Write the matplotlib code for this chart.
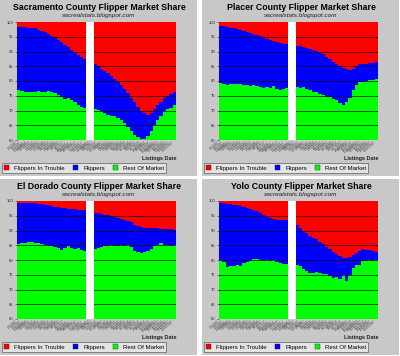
import matplotlib
matplotlib.use("Agg")
import matplotlib.pyplot as plt
from matplotlib.patches import Rectangle, Patch
import numpy as np
import pandas as pd

plt.rcParams['font.family'] = ['Liberation Sans', 'DejaVu Sans']

counties = ["Sacramento", "Placer", "El Dorado", "Yolo"]

# weekly listing dates (tick labels)
dates = pd.date_range("2007-01-01", periods=48, freq="W-MON")
date_labels = [f"{d.month}/{d.day}/{d.year}" for d in dates]

nan = np.nan

# top edge of the "Flippers" band (rest of market + flippers), percent
sac_top = [98.3, 98.2, 98.2, 98.1, 98.0, 97.8, 97.4, 97.0, 96.5, 96.0, 95.4, 94.8,
           94.0, 93.2, 92.3, 91.4, 90.5, 89.6, 88.8, 88.0, 87.4, nan, nan,
           85.8, 85.0, 84.2, 83.4, 82.6, 81.7, 80.8, 79.7, 78.5, 77.2, 75.8, 74.3,
           72.8, 71.3, 70.0, 69.0, 68.6, 69.3, 70.5, 71.8, 73.0, 74.2, 75.0, 75.6, 76.3]
sac_rest = [76.8, 76.6, 76.4, 76.3, 76.4, 76.3, 76.5, 76.4, 76.3, 76.5, 76.4, 76.0,
            75.4, 74.6, 74.0, 74.3, 73.5, 72.8, 72.0, 71.3, 71.0, nan, nan,
            70.4, 70.2, 69.8, 69.2, 68.6, 68.3, 68.0, 67.4, 66.8, 65.8, 64.5, 63.0,
            61.8, 61.0, 60.5, 60.3, 61.2, 63.0, 65.0, 66.8, 68.3, 69.8, 70.5, 71.0, 71.8]

pla_top = [98.7, 98.6, 98.4, 98.1, 97.8, 97.5, 97.2, 96.9, 96.6, 96.3, 96.0, 95.6,
           95.2, 94.8, 94.4, 94.0, 93.6, 93.3, 93.0, 92.7, 92.4, nan, nan,
           92.0, 91.8, 91.5, 91.2, 90.9, 90.6, 90.2, 89.6, 89.0, 88.3, 87.5, 86.6,
           85.8, 85.0, 84.4, 84.0, 83.8, 84.2, 85.0, 85.6, 85.8, 85.9, 86.1, 86.2, 86.4]
pla_rest = [79.4, 79.0, 78.8, 78.9, 79.0, 79.1, 78.9, 78.7, 78.5, 78.3, 78.5, 78.2,
            77.9, 77.5, 78.0, 77.6, 78.2, 77.3, 76.8, 77.2, 77.6, nan, nan,
            77.8, 77.6, 77.9, 77.4, 77.0, 76.4, 76.2, 75.6, 75.2, 74.7, 74.5, 74.0,
            73.6, 72.6, 72.0, 72.8, 74.3, 76.8, 78.8, 79.5, 79.8, 80.0, 80.2, 80.3, 80.8]

eld_top = [99.2, 99.3, 99.3, 99.4, 99.3, 99.3, 99.1, 99.0, 98.8, 98.5, 98.3, 98.1,
           97.8, 97.6, 97.5, 97.4, 97.3, 97.2, 97.0, 97.1, 96.9, nan, nan,
           96.0, 95.8, 95.6, 95.4, 95.1, 94.9, 94.6, 94.3, 94.0, 93.6, 93.2, 92.8,
           92.0, 91.5, 91.1, 90.9, 90.8, 90.9, 90.7, 90.8, 90.6, 90.4, 90.5, 90.4, 90.3]
eld_rest = [85.5, 85.6, 85.7, 86.0, 86.1, 85.8, 85.6, 85.5, 85.2, 84.9, 84.8, 84.5,
            84.2, 83.3, 84.2, 84.9, 84.0, 83.6, 83.9, 83.4, 83.2, nan, nan,
            83.7, 83.9, 84.5, 84.8, 84.9, 85.1, 84.6, 84.9, 85.0, 84.9, 85.0, 84.4,
            83.2, 82.6, 82.4, 82.7, 83.2, 83.8, 84.6, 85.2, 85.8, 85.0, 85.2, 84.9, 85.0]

yol_top = [99.3, 99.2, 99.0, 98.9, 98.8, 98.6, 98.2, 97.9, 97.6, 97.3, 97.0, 96.6,
           96.0, 95.2, 94.6, 94.1, 93.9, 93.7, 93.6, 93.5, 93.4, nan, nan,
           91.8, 91.0, 90.0, 89.0, 88.2, 87.6, 87.0, 86.2, 85.3, 84.5, 83.6, 82.8,
           82.0, 81.2, 80.8, 80.6, 80.9, 81.8, 82.4, 83.2, 83.6, 83.4, 83.5, 83.2, 82.7]
yol_rest = [80.0, 79.2, 77.6, 77.8, 78.0, 78.4, 78.0, 78.9, 79.4, 79.8, 80.2, 80.4,
            80.0, 79.8, 80.1, 79.6, 79.9, 79.2, 79.0, 78.6, 78.5, nan, nan,
            78.3, 77.8, 77.0, 76.3, 75.7, 75.5, 75.8, 75.6, 75.4, 75.2, 74.6, 74.0,
            74.2, 73.5, 74.8, 72.8, 75.0, 77.4, 78.2, 78.3, 79.5, 79.8, 80.0, 79.7, 80.0]

tops = [sac_top, pla_top, eld_top, yol_top]
rests = [sac_rest, pla_rest, eld_rest, yol_rest]

W, H = 400, 356
fig = plt.figure(figsize=(W / 100, H / 100), dpi=100)
fig.patch.set_facecolor("white")


def box(x, y, w, h):
    return [x / W, 1 - (y + h) / H, w / W, h / H]


offsets = [(0, 0), (202, 0), (0, 179), (202, 179)]
RED, BLUE, GREEN = "#ff0000", "#0000ff", "#00ff00"

for i, name in enumerate(counties):
    ox, oy = offsets[i]
    fig.patches.append(Rectangle((ox / W, 1 - (oy + 176) / H), 197 / W, 176 / H,
                                 transform=fig.transFigure, facecolor="#c8c8c8",
                                 edgecolor="none", zorder=-5))

    top = np.array(tops[i])
    rest = np.array(rests[i])
    x = np.arange(len(top))

    ax = fig.add_axes(box(ox + 17, oy + 22, 159, 118))
    ax.set_zorder(2)
    ax.set_facecolor("white")
    for bottom, height, col in [(0, rest, GREEN), (rest, top - rest, BLUE),
                                (top, 100 - top, RED)]:
        ax.bar(x, height, bottom=bottom, width=1.0, color=col, linewidth=0,
               antialiased=False, zorder=1)
    for yy in range(65, 100, 5):
        ax.axhline(yy, color="#101010", linewidth=0.5, zorder=2)
    for gx in x[np.isnan(top)]:
        ax.axvspan(gx - 0.7, gx + 0.7, color="white", linewidth=0, zorder=3)

    ax.set_xlim(-0.5, len(top) - 0.5)
    ax.set_ylim(60, 100)
    ax.set_yticks(range(60, 101, 5))
    ax.tick_params(axis="y", labelsize=3, length=1.5, width=0.4, pad=1, colors="#202020")
    ax.set_xticks(x)
    ax.set_xticklabels(date_labels, rotation=40, ha="right", fontsize=2.2,
                       color="#404040")
    ax.tick_params(axis="x", length=0, pad=0.5)
    for s in ax.spines.values():
        s.set_visible(False)

    cx = (ox + 99) / W
    fig.text(cx, 1 - (oy + 7) / H, f"{name} County Flipper Market Share",
             ha="center", va="center", fontsize=6.3, fontweight="bold")
    fig.text(cx, 1 - (oy + 15.5) / H, "sacrealstats.blogspot.com",
             ha="center", va="center", fontsize=4.6, style="italic", color="#202020")
    fig.text((ox + 176) / W, 1 - (oy + 159) / H, "Listings Date",
             ha="right", va="center", fontsize=4, fontweight="bold", color="#202020")

    handles = [Patch(facecolor=RED, edgecolor="#202020", linewidth=0.3, label="Flippers In Trouble"),
               Patch(facecolor=BLUE, edgecolor="#202020", linewidth=0.3, label="Flippers"),
               Patch(facecolor=GREEN, edgecolor="#202020", linewidth=0.3, label="Rest Of Market")]
    lb = box(ox + 3, oy + 163, 162, 10)
    leg = fig.legend(handles=handles, loc="center",
                     bbox_to_anchor=(lb[0] + lb[2] / 2, lb[1] + lb[3] / 2),
                     ncol=3, fontsize=4.4, handlelength=0.9, handleheight=0.9,
                     handletextpad=0.8, columnspacing=1.3, borderpad=0.35,
                     frameon=True, fancybox=False)
    leg.get_frame().set_facecolor("#ececec")
    leg.get_frame().set_edgecolor("#404040")
    leg.get_frame().set_linewidth(0.5)

fig.savefig("out.png", dpi=100)
